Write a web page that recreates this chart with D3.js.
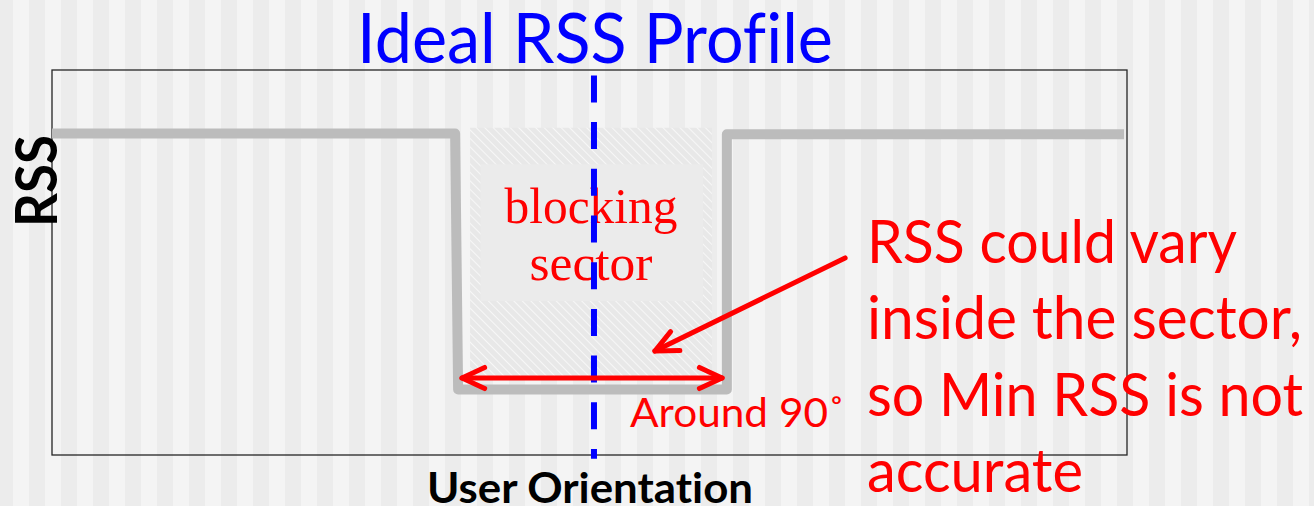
<!DOCTYPE html>
<html>
<head>
<meta charset="utf-8">
<script src="https://cdn.jsdelivr.net/npm/d3@7"></script>
<style>
  html, body { margin: 0; padding: 0; background: #f4f4f4; }
  svg { display: block; }
  text { font-variant-ligatures: none; }
</style>
</head>
<body>
<script>
// perfil RSS ideal (orientación en grados, RSS en unidades relativas)
var orientation = [0, 135, 136, 226, 226, 359];
var rssValues = [8.35, 8.35, 1.7, 1.7, 8.33, 8.33];
var blockingSector = [136, 226];
var sectorCenter = 181.5;
var noteLines = ["RSS could vary", "inside the sector,", "so Min RSS is not", "accurate"];

var W = 1314, H = 506;

var x = d3.scaleLinear().domain([0, 360]).range([52, 1127]);
var y = d3.scaleLinear().domain([0, 10]).range([455, 70]);

var svg = d3.select("body").append("svg").attr("width", W).attr("height", H);
var defs = svg.append("defs");

// fondo a rayas verticales
var stripes = defs.append("pattern")
      .attr("id", "stripes")
      .attr("patternUnits", "userSpaceOnUse")
      .attr("x", -3).attr("y", 0)
      .attr("width", 32).attr("height", 10);
stripes.append("rect").attr("width", 32).attr("height", 10).attr("fill", "#f4f4f4");
stripes.append("rect").attr("width", 16).attr("height", 10).attr("fill", "#ececec");

// rayado diagonal del sector
var hatch = defs.append("pattern")
      .attr("id", "hatch")
      .attr("patternUnits", "userSpaceOnUse")
      .attr("width", 6).attr("height", 6)
      .attr("patternTransform", "rotate(-45)");
hatch.append("rect").attr("width", 6).attr("height", 6).attr("fill", "#e8e8e8");
hatch.append("line").attr("x1", 0).attr("y1", 0).attr("x2", 0).attr("y2", 6)
      .attr("stroke", "#f7f7f7").attr("stroke-width", 2);

svg.append("rect").attr("width", W).attr("height", H).attr("fill", "url(#stripes)");

// marco del gráfico
svg.append("rect")
      .attr("x", x(0)).attr("y", y(10))
      .attr("width", x(360) - x(0)).attr("height", y(0) - y(10))
      .attr("fill", "none")
      .attr("stroke", "#262626")
      .attr("stroke-width", 1.3);

// zona de bloqueo
svg.append("rect")
      .attr("x", x(blockingSector[0] + 4)).attr("y", y(8.5))
      .attr("width", x(blockingSector[1] - 5) - x(blockingSector[0] + 4))
      .attr("height", y(2.0) - y(8.5))
      .attr("fill", "url(#hatch)");
svg.append("rect")
      .attr("x", x(blockingSector[0] + 7.5)).attr("y", y(7.55))
      .attr("width", x(blockingSector[1] - 8) - x(blockingSector[0] + 7.5))
      .attr("height", y(4.0) - y(7.55))
      .attr("fill", "#ebebeb");

// línea del perfil
var line = d3.line()
      .x(function (d, i) { return x(orientation[i]); })
      .y(function (d) { return y(d); });

svg.append("path")
      .datum(rssValues)
      .attr("d", line)
      .attr("fill", "none")
      .attr("stroke", "#bcbcbc")
      .attr("stroke-width", 10)
      .attr("stroke-linejoin", "round");

// ajusta el ancho del texto
function fit(t, w) {
  t.attr("textLength", w).attr("lengthAdjust", "spacingAndGlyphs");
  return t;
}

var blockText = svg.append("g")
      .attr("fill", "#ff0000")
      .attr("font-family", "'Liberation Serif', serif")
      .attr("font-size", 50)
      .attr("text-anchor", "middle");
fit(blockText.append("text").attr("x", 591).attr("y", 223).text("blocking"), 173);
fit(blockText.append("text").attr("x", 591).attr("y", 280).text("sector"), 123);

// línea azul discontinua
svg.append("line")
      .attr("x1", x(sectorCenter)).attr("x2", x(sectorCenter))
      .attr("y1", y(9.86)).attr("y2", y(-0.1))
      .attr("stroke", "#0000ff")
      .attr("stroke-width", 6)
      .attr("stroke-dasharray", "27 19.7");

// flechas rojas
function head(tx, ty, ang) {
  var len = 25, spread = 25 * Math.PI / 180;
  var a1 = ang + spread, a2 = ang - spread;
  return "M" + (tx + len * Math.cos(a1)) + "," + (ty + len * Math.sin(a1)) +
         "L" + tx + "," + ty +
         "L" + (tx + len * Math.cos(a2)) + "," + (ty + len * Math.sin(a2));
}

var arrows = svg.append("g")
      .attr("fill", "none")
      .attr("stroke", "#ff0000")
      .attr("stroke-width", 5)
      .attr("stroke-linecap", "round")
      .attr("stroke-linejoin", "round");

var ax1 = x(137.3), ax2 = x(224.4), ay = y(2.0);
arrows.append("line").attr("x1", ax1).attr("y1", ay).attr("x2", ax2).attr("y2", ay);
arrows.append("path").attr("d", head(ax1, ay, 0));
arrows.append("path").attr("d", head(ax2, ay, Math.PI));

var tailX = x(265.6), tailY = y(5.12), tipX = x(201.9), tipY = y(2.7);
arrows.append("line").attr("x1", tailX).attr("y1", tailY).attr("x2", tipX).attr("y2", tipY);
arrows.append("path").attr("d", head(tipX, tipY, Math.atan2(tailY - tipY, tailX - tipX)));

// textos
fit(svg.append("text")
      .attr("x", 357).attr("y", 63)
      .attr("font-family", "Lato, sans-serif")
      .attr("font-size", 70)
      .attr("fill", "#0000ff")
      .text("Ideal RSS Profile"), 476);

fit(svg.append("text")
      .attr("transform", "translate(57,181) rotate(-90)")
      .attr("text-anchor", "middle")
      .attr("font-family", "Lato, sans-serif")
      .attr("font-weight", "bold")
      .attr("font-size", 58)
      .attr("fill", "#000")
      .text("RSS"), 92);

fit(svg.append("text")
      .attr("x", 427).attr("y", 503)
      .attr("font-family", "Lato, sans-serif")
      .attr("font-weight", "bold")
      .attr("font-size", 42)
      .attr("fill", "#000")
      .text("User Orientation"), 326);

fit(svg.append("text")
      .attr("x", 630).attr("y", 427)
      .attr("font-family", "Lato, sans-serif")
      .attr("font-size", 40)
      .attr("fill", "#ff0000")
      .text("Around 90˚"), 215);

var noteWidths = [370, 435, 436, 216];
var noteBase = [263, 339, 416, 492];
svg.append("g")
      .attr("font-family", "Lato, sans-serif")
      .attr("font-size", 60)
      .attr("fill", "#ff0000")
      .selectAll("text")
      .data(noteLines)
      .enter().append("text")
      .attr("x", 867)
      .attr("y", function (d, i) { return noteBase[i]; })
      .attr("textLength", function (d, i) { return noteWidths[i]; })
      .attr("lengthAdjust", "spacingAndGlyphs")
      .text(function (d) { return d; });
</script>
</body>
</html>
